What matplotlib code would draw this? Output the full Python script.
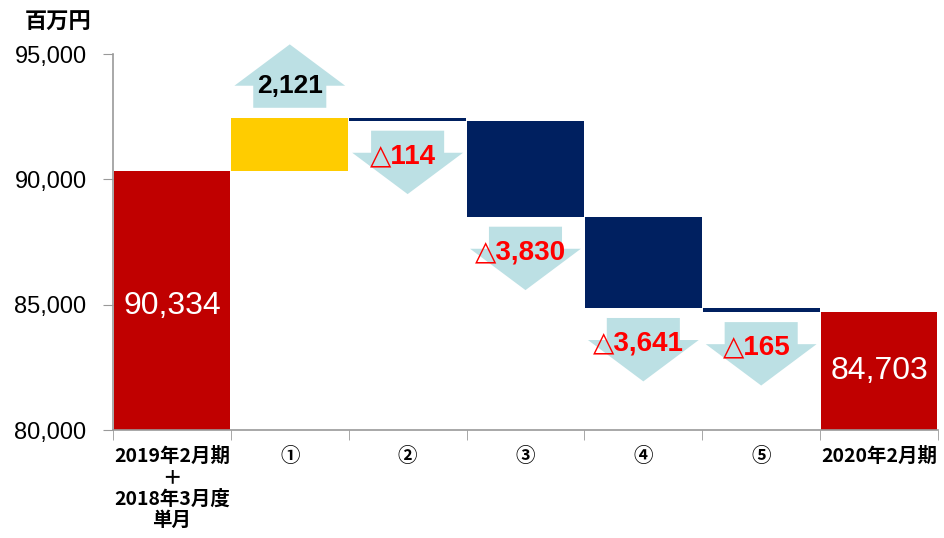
import matplotlib.pyplot as plt
from matplotlib.patches import Polygon

plt.rcParams['font.family'] = ['Noto Sans CJK JP', 'DejaVu Sans']
NUM_FONT = ['Liberation Sans', 'DejaVu Sans']

# data
categories = ['2019年2月期\n＋\n2018年3月度\n単月', '①', '②', '③', '④', '⑤', '2020年2月期']
start_value = 90334
deltas = [2121, -114, -3830, -3641, -165]
end_value = 84703
yticks = [80000, 85000, 90000, 95000]

RED = '#C00000'
YELLOW = '#FFCC00'
NAVY = '#002060'
ARROW = '#BCE0E4'

fig = plt.figure(figsize=(9.44, 5.38), dpi=100)
ax = fig.add_axes([0.1197, 0.2007, 0.8739, 0.6989])

ymin = 80000
# start / end totals
ax.bar(0, start_value - ymin, bottom=ymin, width=0.99, color=RED)
ax.bar(len(categories) - 1, end_value - ymin, bottom=ymin, width=0.99, color=RED)
ax.text(0, (start_value + ymin) / 2 - 200, f'{start_value:,}', color='white',
        ha='center', va='center', fontsize=23, family=NUM_FONT)
ax.text(len(categories) - 1, (end_value + ymin) / 2, f'{end_value:,}', color='white',
        ha='center', va='center', fontsize=23, family=NUM_FONT)

# arrow shape (data units)
gap, shaft, head = 400, 880, 1650
hw_shaft, hw_head = 0.31, 0.47

level = start_value
for i, d in enumerate(deltas, start=1):
    lo, hi = min(level, level + d), max(level, level + d)
    ax.bar(i, hi - lo, bottom=lo, width=0.99, color=YELLOW if d > 0 else NAVY)
    if d > 0:
        b = hi + gap
        sgn = 1
    else:
        b = lo - gap
        sgn = -1
    pts = [(i - hw_shaft, b), (i + hw_shaft, b), (i + hw_shaft, b + sgn * shaft),
           (i + hw_head, b + sgn * shaft), (i, b + sgn * (shaft + head)),
           (i - hw_head, b + sgn * shaft), (i - hw_shaft, b + sgn * shaft)]
    ax.add_patch(Polygon(pts, closed=True, facecolor=ARROW, edgecolor='none',
                         clip_on=False, zorder=1))
    if d > 0:
        ax.text(i, b + shaft, f'{d:,}', color='black', ha='center', va='center',
                fontsize=19, fontweight='bold', family=NUM_FONT, zorder=3)
    else:
        ax.text(i - 0.04, b - shaft - 150, f'△{-d:,}', color='#FF0000', ha='center',
                va='center', fontsize=20, fontweight='bold', family=NUM_FONT, zorder=3)
    level += d

ax.set_xlim(-0.5, len(categories) - 0.5)
ax.set_ylim(ymin, 95000)
ax.set_yticks(yticks)
ax.set_yticklabels([f'{v:,}' for v in yticks], fontsize=17, family=NUM_FONT)
ax.set_xticks(range(len(categories)))
ax.set_xticklabels(categories, fontsize=14, fontweight='bold', linespacing=1.15)
ax.set_xticks([i - 0.5 for i in range(len(categories) + 1)], minor=True)
ax.tick_params(axis='x', which='major', length=0, pad=12)
ax.tick_params(axis='x', which='minor', length=7, color='#999999', direction='out')
ax.tick_params(axis='y', length=7, color='#999999', pad=12)

for s in ['top', 'right']:
    ax.spines[s].set_visible(False)
for s in ['left', 'bottom']:
    ax.spines[s].set_color('#999999')
    ax.spines[s].set_linewidth(1.2)

fig.text(0.0265, 0.958, '百万円', fontsize=16, fontweight='bold', va='center', ha='left')

fig.savefig('out.png', dpi=100)
